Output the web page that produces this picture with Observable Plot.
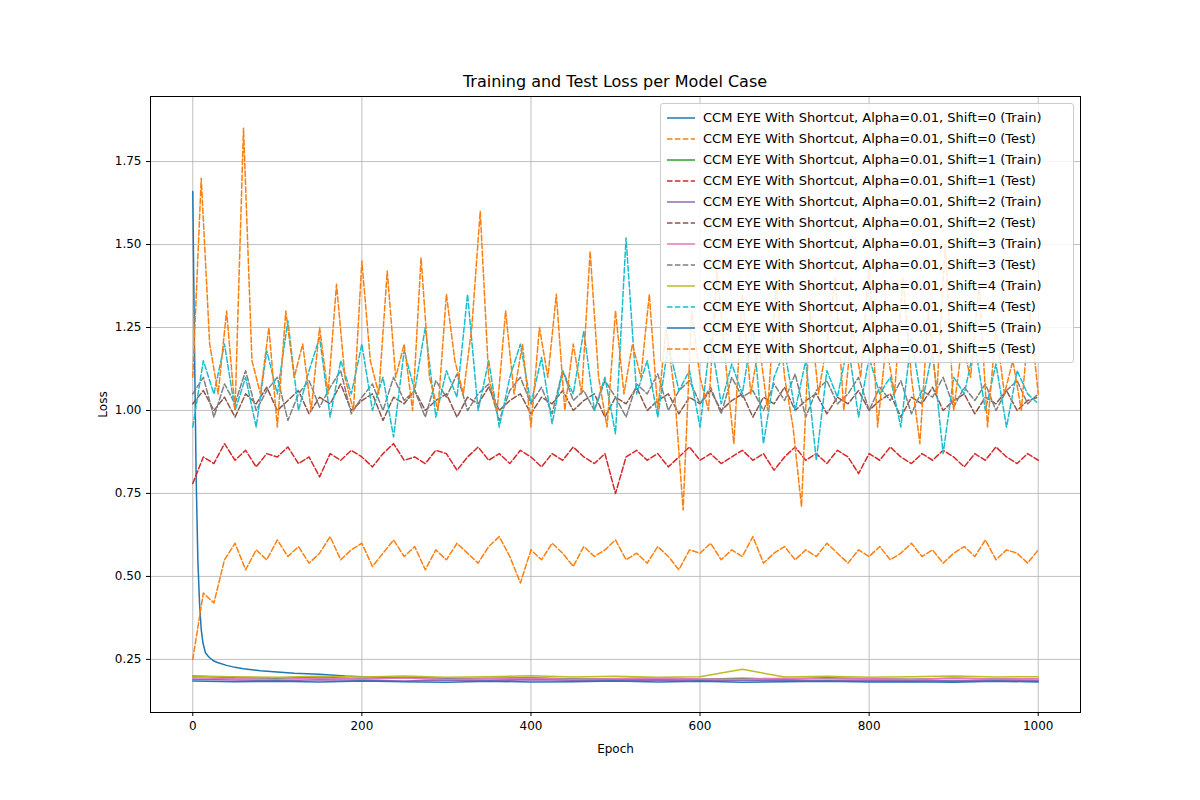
<!DOCTYPE html>
<html>
<head>
<meta charset="utf-8">
<script src="https://cdn.jsdelivr.net/npm/d3@7"></script>
<script src="https://cdn.jsdelivr.net/npm/@observablehq/plot@0.6"></script>
<style>
  body { margin: 0; background: #fff; font-family: "DejaVu Sans", sans-serif; }
  #wrap { position: relative; width: 1200px; height: 800px; }
  #titulo { position: absolute; top: 72px; left: 150px; width: 930px; text-align: center; font-size: 16px; }
  #lenda { position: absolute; left: 660px; top: 103px; width: 412px; background: rgba(255,255,255,0.85);
           border: 1px solid #ccc; border-radius: 3px; padding: 3px 0; font-size: 13px; }
  #lenda div { height: 21px; display: flex; align-items: center; }
  #lenda svg { margin: 0 8px 0 6px; }
</style>
</head>
<body>
<div id="wrap">
  <div id="titulo">Training and Test Loss per Model Case</div>
  <div id="chart"></div>
  <div id="lenda"></div>
</div>
<script>
// Series: shift 0..5, Train / Test
const CORES = ["#1f77b4", "#ff7f0e", "#2ca02c", "#d62728", "#9467bd", "#8c564b",
               "#e377c2", "#7f7f7f", "#bcbd22", "#17becf", "#1f77b4", "#ff7f0e"];
const ETIQUETAS = [0, 1, 2, 3, 4, 5].flatMap((s) => [
  `CCM EYE With Shortcut, Alpha=0.01, Shift=${s} (Train)`,
  `CCM EYE With Shortcut, Alpha=0.01, Shift=${s} (Test)`,
]);

const epocasTrain0 = [0, 2, 4, 6, 8, 10, 12, 15, 18, 20, 25, 30, 40, 50, 60, 80, 100, 120, 150, 180, 200, 250, 300, 350, 400, 450, 500, 550, 600, 650, 700, 750, 800, 850, 900, 950, 1000];
const train0 = [1.66, 1.2, 0.8, 0.55, 0.42, 0.34, 0.3, 0.27, 0.26, 0.255, 0.245, 0.24, 0.232, 0.226, 0.222, 0.216, 0.212, 0.208, 0.205, 0.2, 0.198, 0.195, 0.193, 0.192, 0.19, 0.19, 0.188, 0.188, 0.187, 0.187, 0.186, 0.186, 0.185, 0.186, 0.185, 0.185, 0.185];
const test0 = [0.25, 0.45, 0.42, 0.55, 0.6, 0.52, 0.58, 0.55, 0.61, 0.56, 0.59, 0.54, 0.57, 0.62, 0.55, 0.58, 0.6, 0.53, 0.57, 0.61, 0.56, 0.59, 0.52, 0.58, 0.55, 0.6, 0.57, 0.54, 0.59, 0.62, 0.56, 0.48, 0.58, 0.55, 0.6, 0.57, 0.53, 0.59, 0.56, 0.58, 0.61, 0.55, 0.57, 0.54, 0.59, 0.56, 0.52, 0.58, 0.57, 0.6, 0.55, 0.58, 0.56, 0.62, 0.54, 0.57, 0.59, 0.55, 0.58, 0.56, 0.6, 0.57, 0.54, 0.58, 0.56, 0.59, 0.55, 0.57, 0.6, 0.56, 0.58, 0.54, 0.57, 0.59, 0.56, 0.61, 0.55, 0.58, 0.57, 0.54, 0.58];
const train1 = [0.2, 0.195, 0.193, 0.196, 0.192, 0.194, 0.19, 0.193, 0.195, 0.191, 0.192, 0.194, 0.19, 0.193, 0.191, 0.195, 0.192, 0.19, 0.193, 0.191, 0.192];
const test1 = [0.78, 0.86, 0.84, 0.9, 0.85, 0.88, 0.83, 0.87, 0.86, 0.89, 0.84, 0.86, 0.8, 0.87, 0.85, 0.88, 0.86, 0.83, 0.87, 0.9, 0.85, 0.86, 0.84, 0.88, 0.87, 0.82, 0.86, 0.89, 0.85, 0.87, 0.84, 0.88, 0.86, 0.83, 0.87, 0.85, 0.89, 0.86, 0.84, 0.87, 0.75, 0.86, 0.88, 0.85, 0.87, 0.83, 0.86, 0.89, 0.85, 0.87, 0.84, 0.86, 0.88, 0.85, 0.87, 0.82, 0.86, 0.89, 0.85, 0.87, 0.84, 0.88, 0.86, 0.81, 0.87, 0.85, 0.89, 0.86, 0.84, 0.87, 0.85, 0.88, 0.86, 0.83, 0.87, 0.85, 0.89, 0.86, 0.84, 0.87, 0.85];
const train2 = [0.19, 0.188, 0.186, 0.189, 0.187, 0.185, 0.188, 0.186, 0.189, 0.187, 0.186, 0.188, 0.185, 0.187, 0.189, 0.186, 0.188, 0.187, 0.185, 0.188, 0.186];
const test2 = [1.02, 1.06, 1.0, 1.04, 0.98, 1.05, 1.02, 1.07, 1.0, 1.03, 1.06, 0.99, 1.04, 1.02, 1.08, 1.0, 1.03, 1.05, 0.97, 1.04, 1.02, 1.06, 1.0, 1.03, 1.05, 0.98, 1.04, 1.02, 1.07, 1.0, 1.03, 1.05, 0.99, 1.04, 1.02, 1.06, 1.0, 1.03, 1.05, 0.98, 1.04, 1.02, 1.07, 1.0, 1.03, 1.05, 0.99, 1.04, 1.02, 1.06, 1.0, 1.03, 1.05, 0.98, 1.04, 1.02, 1.07, 1.0, 1.03, 1.05, 0.99, 1.04, 1.02, 1.06, 1.0, 1.03, 1.05, 0.98, 1.04, 1.02, 1.07, 1.0, 1.03, 1.05, 0.99, 1.04, 1.02, 1.06, 1.0, 1.03, 1.04];
const train3 = [0.195, 0.192, 0.19, 0.193, 0.191, 0.194, 0.19, 0.192, 0.193, 0.19, 0.192, 0.194, 0.191, 0.19, 0.193, 0.191, 0.192, 0.19, 0.193, 0.191, 0.192];
const test3 = [1.05, 1.1, 0.98, 1.08, 1.02, 1.12, 1.0, 1.06, 1.1, 0.97, 1.05, 1.09, 1.01, 1.07, 1.12, 0.99, 1.04, 1.08, 1.0, 1.1, 1.03, 1.06, 0.98, 1.09, 1.04, 1.11, 1.0, 1.05, 1.08, 0.97, 1.06, 1.1, 1.02, 1.07, 0.99, 1.12, 1.03, 1.06, 1.0, 1.09, 1.04, 0.98, 1.08, 1.05, 1.11, 1.0, 1.06, 1.09, 1.02, 1.07, 0.99, 1.1, 1.04, 1.06, 1.0, 1.08, 1.03, 1.11, 0.98, 1.06, 1.09, 1.02, 1.05, 1.1, 1.0, 1.07, 1.03, 1.09, 0.99, 1.06, 1.04, 1.1, 1.01, 1.07, 1.03, 1.08, 1.0, 1.06, 1.09, 1.02, 1.05];
const train4 = [0.2, 0.198, 0.196, 0.199, 0.197, 0.2, 0.196, 0.198, 0.201, 0.197, 0.199, 0.196, 0.198, 0.22, 0.197, 0.199, 0.196, 0.198, 0.2, 0.197, 0.198];
const test4 = [0.95, 1.15, 1.05, 1.2, 1.0, 1.1, 0.95, 1.18, 1.05, 1.27, 1.0, 1.12, 1.22, 0.98, 1.15, 1.05, 1.2, 1.0, 1.1, 0.92, 1.18, 1.06, 1.25, 0.98, 1.12, 1.04, 1.35, 1.0, 1.15, 0.95, 1.1, 1.2, 1.02, 1.16, 0.96, 1.12, 1.05, 1.24, 1.0, 1.1, 0.93, 1.52, 1.05, 1.15, 0.98, 1.2, 1.06, 1.12, 0.95, 1.22, 1.02, 1.14, 1.05, 1.25, 0.9, 1.1, 1.18, 1.0, 1.15, 0.85, 1.12, 1.04, 1.2, 0.98, 1.16, 1.05, 1.1, 0.95, 1.22, 1.02, 1.18, 0.87, 1.1, 1.05, 1.2, 1.0, 1.14, 0.95, 1.12, 1.05, 1.02];
const train5 = [0.185, 0.183, 0.184, 0.182, 0.185, 0.183, 0.181, 0.184, 0.182, 0.183, 0.185, 0.182, 0.184, 0.181, 0.183, 0.184, 0.182, 0.183, 0.181, 0.184, 0.182];
const test5 = [1.1, 1.7, 1.2, 1.05, 1.3, 1.0, 1.85, 1.15, 1.05, 1.25, 0.95, 1.3, 1.1, 1.2, 1.0, 1.25, 1.05, 1.38, 1.1, 1.0, 1.45, 1.15, 1.05, 1.42, 1.1, 1.2, 1.0, 1.46, 1.1, 1.0, 1.35, 1.15, 1.05, 1.25, 1.6, 1.1, 1.0, 1.3, 1.05, 1.2, 0.95, 1.25, 1.1, 1.35, 1.0, 1.2, 1.05, 1.48, 1.1, 0.95, 1.3, 1.05, 1.2, 1.1, 1.35, 1.0, 1.25, 1.05, 0.7, 1.3, 1.1, 1.0, 1.42, 1.15, 0.9, 1.35, 1.05, 1.2, 1.0, 1.38, 1.1, 0.95, 0.71, 1.3, 1.05, 1.2, 1.4, 1.0, 1.25, 1.1, 1.45, 0.95, 1.2, 1.05, 1.4, 1.1, 0.9, 1.3, 1.05, 1.5, 1.0, 1.2, 1.1, 1.38, 0.95, 1.25, 1.05, 1.15, 1.0, 1.3, 1.05];

const SERIES = [
  { i: 0, y: train0, x: epocasTrain0 }, { i: 1, y: test0 },
  { i: 2, y: train1 }, { i: 3, y: test1 },
  { i: 4, y: train2 }, { i: 5, y: test2 },
  { i: 6, y: train3 }, { i: 7, y: test3 },
  { i: 8, y: train4 }, { i: 9, y: test4 },
  { i: 10, y: train5 }, { i: 11, y: test5 },
];
const filas = SERIES.flatMap((s) => s.y.map((v, k) => ({
  serie: s.i,
  epoch: s.x ? s.x[k] : (k * 1000) / (s.y.length - 1),
  loss: v,
})));

const marcas = [
  Plot.gridX({ ticks: [0, 200, 400, 600, 800, 1000], stroke: "#b0b0b0", strokeOpacity: 1, strokeWidth: 0.8 }),
  Plot.gridY({ ticks: [0.25, 0.5, 0.75, 1, 1.25, 1.5, 1.75], stroke: "#b0b0b0", strokeOpacity: 1, strokeWidth: 0.8 }),
];
// ordem de debuxo como matplotlib: primeira serie abaixo
SERIES.forEach((s) => {
  marcas.push(Plot.line(filas.filter((d) => d.serie === s.i), {
    x: "epoch", y: "loss", stroke: CORES[s.i], strokeWidth: 1.5,
    strokeDasharray: s.i % 2 ? "5.5,2.4" : null,
  }));
});
marcas.push(Plot.frame({ stroke: "#000" }));

const grafico = Plot.plot({
  width: 1200, height: 800,
  marginLeft: 150, marginRight: 120, marginTop: 96, marginBottom: 88,
  style: { fontFamily: "DejaVu Sans, sans-serif", fontSize: "12px", background: "#fff" },
  x: { domain: [-50, 1050], ticks: [0, 200, 400, 600, 800, 1000], tickFormat: (d) => `${d}`, label: "Epoch", labelAnchor: "center", labelArrow: "none", labelOffset: 40, tickSize: 4 },
  y: { domain: [0.09, 1.946], ticks: [0.25, 0.5, 0.75, 1, 1.25, 1.5, 1.75], tickFormat: d3.format(".2f"), label: "Loss", labelAnchor: "center", labelArrow: "none", labelOffset: 52, tickSize: 4 },
  marks: marcas,
});
document.getElementById("chart").appendChild(grafico);

const lenda = document.getElementById("lenda");
ETIQUETAS.forEach((t, i) => {
  const d = document.createElement("div");
  d.innerHTML = `<svg width="28" height="10"><line x1="0" y1="5" x2="28" y2="5" stroke="${CORES[i]}" stroke-width="1.5" ${i % 2 ? 'stroke-dasharray="5.5,2.4"' : ""}/></svg><span>${t}</span>`;
  lenda.appendChild(d);
});
</script>
</body>
</html>
